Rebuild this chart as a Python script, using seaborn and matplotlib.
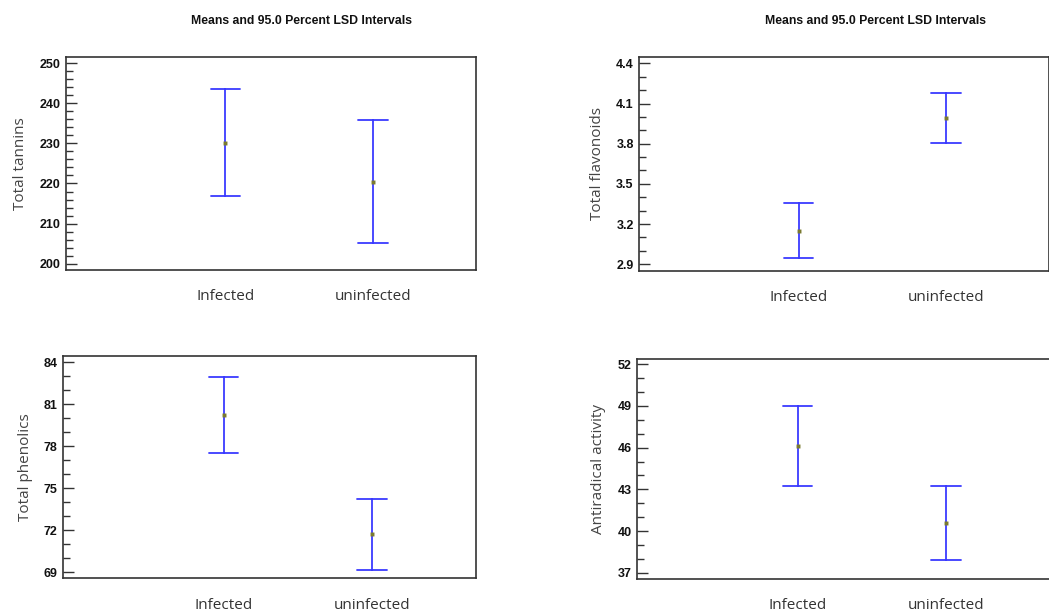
import numpy as np
import pandas as pd
import matplotlib
matplotlib.use("Agg")
import matplotlib.pyplot as plt
import seaborn as sns
from matplotlib.ticker import MultipleLocator

# Grupos y valores (límite inferior, media, límite superior)
groups = ["Infected", "uninfected"]

tannins_low = [216.9, 205.1]
tannins_mean = [230.2, 220.4]
tannins_high = [243.5, 235.8]

flavonoids_low = [2.945, 3.805]
flavonoids_mean = [3.15, 3.99]
flavonoids_high = [3.36, 4.18]

phenolics_low = [77.5, 69.2]
phenolics_mean = [80.2, 71.76]
phenolics_high = [82.95, 74.26]

antiradical_low = [43.25, 37.95]
antiradical_mean = [46.12, 40.6]
antiradical_high = [49.0, 43.25]

title_text = "Means and 95.0 Percent LSD Intervals"

sns.set_theme(style="white")
plt.rcParams["font.family"] = ["Liberation Sans", "DejaVu Sans"]

BLUE = "#3a3aff"


# Construye un DataFrame con tres filas por grupo: mediana = media, min/max = intervalo
def make_frame(low, mean, high):
    rows = []
    for g, lo, m, hi in zip(groups, low, mean, high):
        for v in (lo, m, hi):
            rows.append({"group": g, "value": v})
    return pd.DataFrame(rows)


def draw_panel(ax, low, mean, high, ylabel, ylim, major, offset, minor, fmt, title=False):
    df = make_frame(low, mean, high)
    sns.pointplot(data=df, x="group", y="value", order=groups,
                  estimator=np.median, errorbar=lambda x: (x.min(), x.max()),
                  linestyle="none", color=BLUE, capsize=0.2, markers="",
                  err_kws={"linewidth": 1.3}, ax=ax)
    means = pd.DataFrame({"group": groups, "value": mean})
    sns.pointplot(data=means, x="group", y="value", order=groups, errorbar=None,
                  linestyle="none", color="#7a7a30", markers="s", markersize=0.8, ax=ax)

    ax.set_xlim(-1.08, 1.70)
    ax.set_ylim(*ylim)
    ax.yaxis.set_major_locator(MultipleLocator(major, offset=offset))
    ax.yaxis.set_minor_locator(MultipleLocator(minor, offset=offset % minor))
    ax.yaxis.set_major_formatter(fmt)
    ax.tick_params(axis="y", which="major", direction="in", length=8, width=1,
                   color="#333333", labelsize=9, pad=4, left=True)
    ax.tick_params(axis="y", which="minor", direction="in", length=5, width=1,
                   color="#333333", left=True)
    for lab in ax.get_yticklabels():
        lab.set_fontweight("bold")
        lab.set_color("#111111")
    ax.tick_params(axis="x", length=0, labelsize=11, pad=14, labelcolor="#333333")
    for lab in ax.get_xticklabels():
        lab.set_family(["Open Sans", "DejaVu Sans"])
    ax.set_xlabel("")
    ax.set_ylabel(ylabel, fontsize=11, color="#444444", family=["Open Sans", "DejaVu Sans"],
                  labelpad=8)
    for s in ax.spines.values():
        s.set_visible(True)
        s.set_color("#333333")
        s.set_linewidth(1.2)
    if title:
        ax.text(0.575, 1.17, title_text, transform=ax.transAxes, ha="center", va="center",
                fontsize=8.8, fontweight="bold", color="#111111")


fig = plt.figure(figsize=(10.49, 6.14), dpi=100)
ax1 = fig.add_axes([0.0629, 0.5603, 0.3909, 0.3469])
ax2 = fig.add_axes([0.6094, 0.5591, 0.3909, 0.3476])
ax3 = fig.add_axes([0.0603, 0.0581, 0.3934, 0.3621])
ax4 = fig.add_axes([0.6075, 0.0575, 0.3934, 0.3583])

draw_panel(ax1, tannins_low, tannins_mean, tannins_high, "Total tannins",
           (198.4, 251.6), 10, 0, 2, "{x:.0f}", title=True)
draw_panel(ax2, flavonoids_low, flavonoids_mean, flavonoids_high, "Total flavonoids",
           (2.852, 4.445), 0.3, 0.2, 0.1, "{x:.1f}", title=True)
draw_panel(ax3, phenolics_low, phenolics_mean, phenolics_high, "Total phenolics",
           (68.57, 84.45), 3, 0, 1, "{x:.0f}")
draw_panel(ax4, antiradical_low, antiradical_mean, antiradical_high, "Antiradical activity",
           (36.57, 52.4), 3, 1, 1, "{x:.0f}")

fig.savefig("out.png", dpi=100)
